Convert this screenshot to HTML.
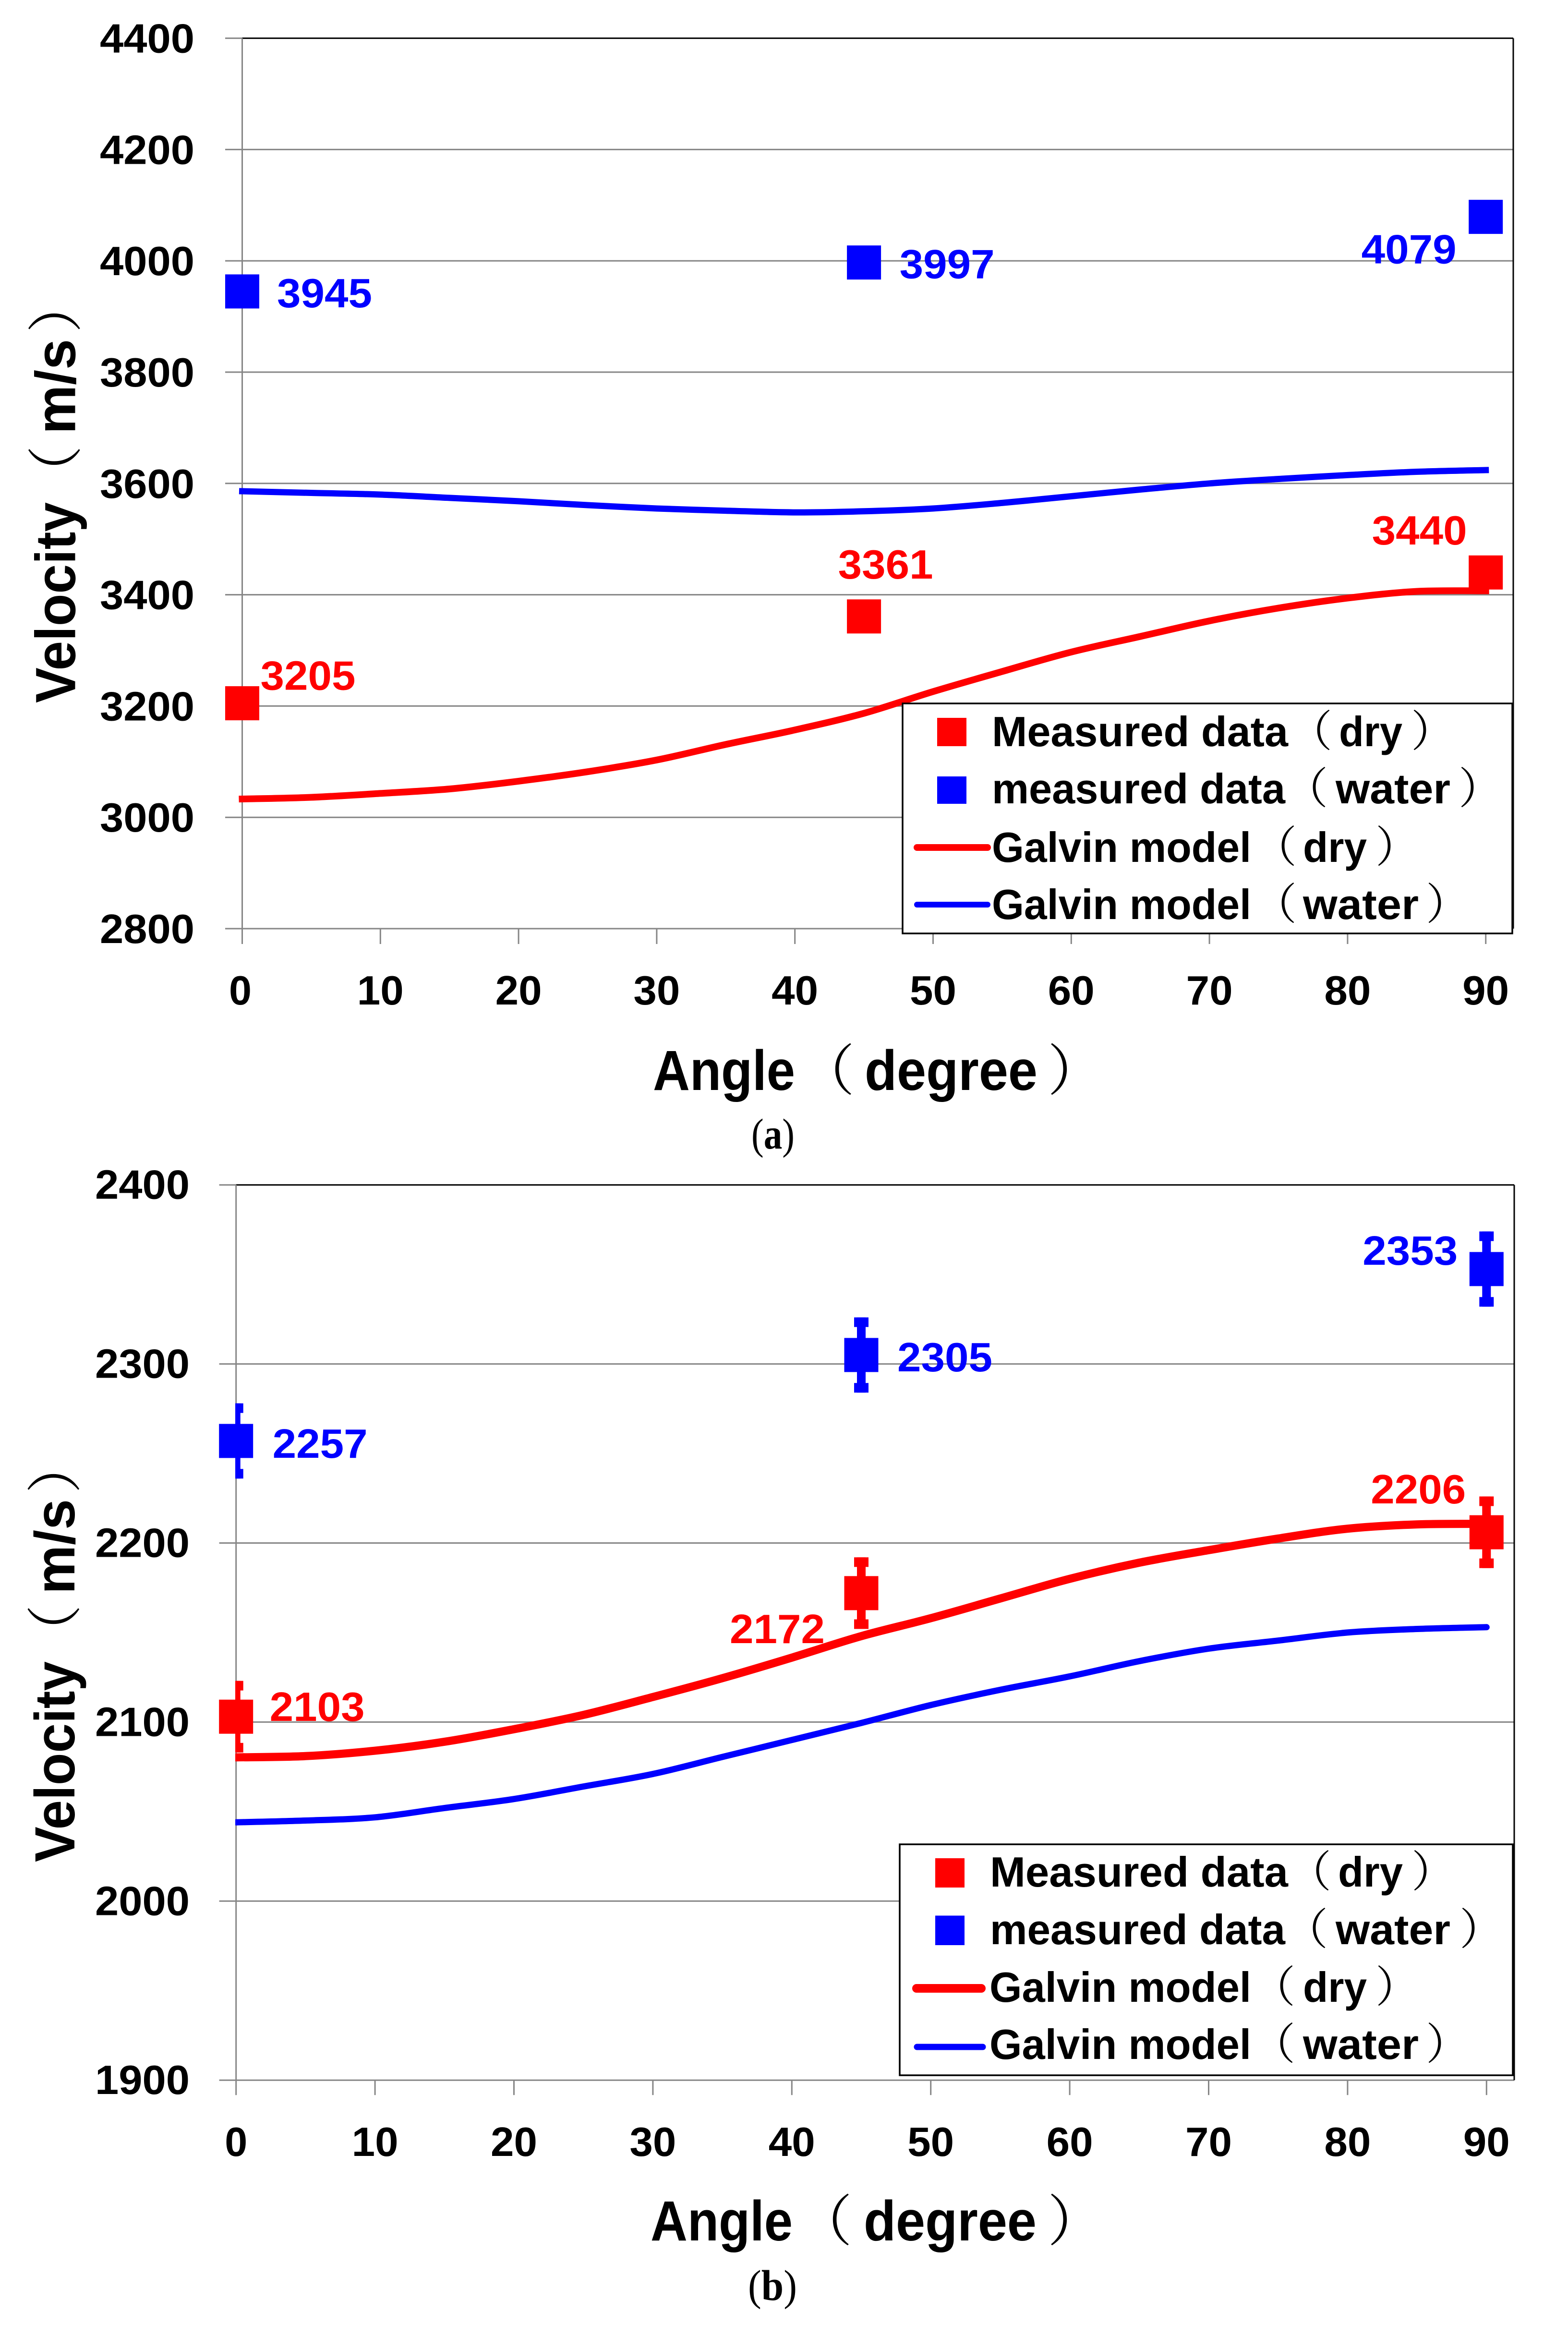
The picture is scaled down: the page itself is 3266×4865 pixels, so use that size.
<!DOCTYPE html>
<html lang="en">
<head>
<meta charset="utf-8">
<title>Velocity vs angle charts</title>
<style>
html,body{margin:0;padding:0;background:#fff}
svg{display:block}
text{font-family:"Liberation Sans","Noto Sans CJK SC",sans-serif;font-weight:bold}
.leg{font-size:88px;fill:#000}
.title{font-size:118px;fill:#000}
.pl{font-family:"Noto Serif CJK SC","Liberation Serif",serif;font-weight:normal;font-size:90px;fill:#000}
.pt{font-family:"Noto Serif CJK SC","Liberation Serif",serif;font-weight:normal;font-size:115px;fill:#000}
.cap{font-family:"Liberation Serif",serif;font-size:90px;font-weight:normal;fill:#000}
</style>
</head>
<body>
<svg xmlns="http://www.w3.org/2000/svg" width="3266" height="4865" viewBox="0 0 3266 4865">
<rect width="3266" height="4865" fill="#fff"/>
<defs>
<clipPath id="clip-b"><rect x="490" y="2400" width="2700" height="2000"/></clipPath>
</defs>

<g id="chart-a"></g>
<g id="chart-b"></g>

<g>
<text class="title" x="1360" y="2270" textLength="296" lengthAdjust="spacingAndGlyphs">Angle</text>
<text class="pt" x="1665" y="2270">（</text>
<text class="title" x="1801" y="2270" textLength="360" lengthAdjust="spacingAndGlyphs">degree</text>
<text class="pt" x="2182" y="2270">）</text>
</g>
<g transform="translate(156.7,0) rotate(-90)">
<text class="title" x="-1464" y="0" textLength="418" lengthAdjust="spacingAndGlyphs">Velocity</text>
<text class="pt" x="-1043" y="0">（</text>
<text class="title" x="-904" y="0" textLength="198" lengthAdjust="spacingAndGlyphs">m/s</text>
<text class="pt" x="-693" y="0">）</text>
</g>
<g>
<rect x="1880" y="1465" width="1270" height="479" fill="#fff" stroke="#000" stroke-width="3.5"/>
<rect x="1952" y="1495" width="61" height="59" fill="#f00"/>
<rect x="1952" y="1617" width="61" height="57" fill="#00f"/>
<line x1="1910" x2="2057" y1="1765" y2="1765" stroke="#f00" stroke-width="14" stroke-linecap="round"/>
<line x1="1910" x2="2057" y1="1884" y2="1884" stroke="#00f" stroke-width="12" stroke-linecap="round"/>
<g>
<text class="leg" x="2066" y="1554" textLength="617" lengthAdjust="spacingAndGlyphs">Measured data</text>
<text class="pl" x="2685" y="1554">（</text>
<text class="leg" x="2789" y="1554" textLength="132" lengthAdjust="spacingAndGlyphs">dry</text>
<text class="pl" x="2939" y="1554">）</text>
</g>
<g>
<text class="leg" x="2066" y="1673" textLength="611" lengthAdjust="spacingAndGlyphs">measured data</text>
<text class="pl" x="2676" y="1673">（</text>
<text class="leg" x="2782" y="1673" textLength="239" lengthAdjust="spacingAndGlyphs">water</text>
<text class="pl" x="3038" y="1673">）</text>
</g>
<g>
<text class="leg" x="2066" y="1795" textLength="540" lengthAdjust="spacingAndGlyphs">Galvin model</text>
<text class="pl" x="2611" y="1795">（</text>
<text class="leg" x="2714" y="1795" textLength="133" lengthAdjust="spacingAndGlyphs">dry</text>
<text class="pl" x="2865" y="1795">）</text>
</g>
<g>
<text class="leg" x="2066" y="1914" textLength="540" lengthAdjust="spacingAndGlyphs">Galvin model</text>
<text class="pl" x="2611" y="1914">（</text>
<text class="leg" x="2714" y="1914" textLength="241" lengthAdjust="spacingAndGlyphs">water</text>
<text class="pl" x="2970" y="1914">）</text>
</g>
</g>
<text class="cap" x="1565" y="2392" textLength="90" lengthAdjust="spacingAndGlyphs">(<tspan font-weight="bold">a</tspan>)</text>

<g>
<text class="title" x="1355" y="4666" textLength="296" lengthAdjust="spacingAndGlyphs">Angle</text>
<text class="pt" x="1660" y="4666">（</text>
<text class="title" x="1799" y="4666" textLength="360" lengthAdjust="spacingAndGlyphs">degree</text>
<text class="pt" x="2182" y="4666">）</text>
</g>
<g transform="translate(155,0) rotate(-90)">
<text class="title" x="-3878" y="0" textLength="418" lengthAdjust="spacingAndGlyphs">Velocity</text>
<text class="pt" x="-3457" y="0">（</text>
<text class="title" x="-3320" y="0" textLength="198" lengthAdjust="spacingAndGlyphs">m/s</text>
<text class="pt" x="-3110" y="0">）</text>
</g>
<g>
<rect x="1874" y="3841" width="1277" height="481" fill="#fff" stroke="#000" stroke-width="3.5"/>
<rect x="1948" y="3870" width="61" height="61" fill="#f00"/>
<rect x="1948" y="3989.5" width="61" height="61.5" fill="#00f"/>
<line x1="1909" x2="2044" y1="4141" y2="4141" stroke="#f00" stroke-width="18" stroke-linecap="round"/>
<line x1="1910" x2="2047" y1="4263" y2="4263" stroke="#00f" stroke-width="13" stroke-linecap="round"/>
<g>
<text class="leg" x="2062" y="3929" textLength="621" lengthAdjust="spacingAndGlyphs">Measured data</text>
<text class="pl" x="2683" y="3929">（</text>
<text class="leg" x="2787" y="3929" textLength="135" lengthAdjust="spacingAndGlyphs">dry</text>
<text class="pl" x="2940" y="3929">）</text>
</g>
<g>
<text class="leg" x="2062" y="4049" textLength="615" lengthAdjust="spacingAndGlyphs">measured data</text>
<text class="pl" x="2676" y="4049">（</text>
<text class="leg" x="2782" y="4049" textLength="239" lengthAdjust="spacingAndGlyphs">water</text>
<text class="pl" x="3040" y="4049">）</text>
</g>
<g>
<text class="leg" x="2061" y="4169" textLength="545" lengthAdjust="spacingAndGlyphs">Galvin model</text>
<text class="pl" x="2608" y="4169">（</text>
<text class="leg" x="2714" y="4169" textLength="133" lengthAdjust="spacingAndGlyphs">dry</text>
<text class="pl" x="2865" y="4169">）</text>
</g>
<g>
<text class="leg" x="2061" y="4288" textLength="545" lengthAdjust="spacingAndGlyphs">Galvin model</text>
<text class="pl" x="2608" y="4288">（</text>
<text class="leg" x="2714" y="4288" textLength="241" lengthAdjust="spacingAndGlyphs">water</text>
<text class="pl" x="2970" y="4288">）</text>
</g>
</g>
<text class="cap" x="1558" y="4790" textLength="102" lengthAdjust="spacingAndGlyphs">(<tspan font-weight="bold">b</tspan>)</text>
</svg>

<script>
// ---- shared data ----
const xTickValues = [0, 10, 20, 30, 40, 50, 60, 70, 80, 90];
const modelAngles = [0, 5, 10, 15, 20, 25, 30, 35, 40, 45, 50, 55, 60, 65, 70, 75, 80, 85, 90];
const measuredAngles = [0, 45, 90];

// ---- chart (a) data ----
const aYTicks = [2800, 3000, 3200, 3400, 3600, 3800, 4000, 4200, 4400];
const aDryModel = [3033, 3036, 3043, 3051, 3065, 3082, 3103, 3131, 3157, 3187, 3226, 3262, 3297, 3325, 3353, 3376, 3394, 3406, 3407];
const aWaterModel = [3586, 3583, 3580, 3574, 3568, 3561, 3555, 3551, 3548, 3550, 3555, 3565, 3577, 3589, 3600, 3608, 3615, 3621, 3624];
const aDryMeasured = [3205, 3361, 3440];
const aWaterMeasured = [3945, 3997, 4079];

// ---- chart (b) data ----
const bYTicks = [1900, 2000, 2100, 2200, 2300, 2400];
const bDryModel = [2080.3, 2081, 2084, 2089, 2096, 2104, 2114, 2124.5, 2136, 2148, 2158, 2169, 2180, 2189, 2196, 2202.5, 2208, 2210.4, 2210.7];
const bWaterModel = [2044, 2045, 2046.8, 2052, 2057, 2064, 2071, 2080.5, 2090, 2099.5, 2109.5, 2118, 2125.5, 2134, 2141, 2145.5, 2150, 2152, 2153];
const bDryMeasured = [2103, 2172, 2206];
const bWaterMeasured = [2257, 2305, 2353];
const bDryError = [20, 20, 20];
const bWaterError = [21, 21, 21];

const NS = 'http://www.w3.org/2000/svg';
const GRID = '#868686';

function make(parent, tag, attrs) {
  const el = document.createElementNS(NS, tag);
  for (const k in attrs) el.setAttribute(k, attrs[k]);
  parent.appendChild(el);
  return el;
}

function drawChart(root, f) {
  const x = d => f.x0 + d * f.xs;
  const y = v => f.yTop + (f.yMax - v) * f.ys;
  const yBottom = y(f.yMin);

  // gridlines and y ticks
  f.yTicks.forEach(v => {
    const isTop = v === f.yMax;
    const g = make(root, 'line', {x1: f.tickLeft, x2: isTop ? f.x0 : f.right, y1: y(v), y2: y(v), stroke: GRID, 'stroke-width': 3});
    
    
    const t = make(root, 'text', {x: f.yLabelRight - 197, y: y(v) + f.yLabelDy, textLength: 197, lengthAdjust: 'spacingAndGlyphs', 'font-size': 85, fill: '#000'});
    t.textContent = v;
    
    
  });

  // plot border
  const top = make(root, 'line', {x1: f.x0, x2: f.right, y1: f.yTop, y2: f.yTop, stroke: '#000', 'stroke-width': 3});
  
  
  const rgt = make(root, 'line', {x1: f.right, x2: f.right, y1: f.yTop, y2: yBottom, stroke: '#000', 'stroke-width': 3});
  
  

  // y axis
  const ax = make(root, 'line', {x1: f.x0, x2: f.x0, y1: f.yTop, y2: yBottom + f.tickLen, stroke: GRID, 'stroke-width': 3});
  
  

  // x ticks
  xTickValues.forEach(d => {
    if (d > 0) {
      const tk = make(root, 'line', {x1: x(d), x2: x(d), y1: yBottom, y2: yBottom + f.tickLen, stroke: GRID, 'stroke-width': 3});
      
      
    }
    const w = d === 0 ? 47 : 97;
    const t = make(root, 'text', {x: x(d) - w / 2 + (d === 0 ? f.zeroDx : 0), y: f.xLabelY, textLength: w, lengthAdjust: 'spacingAndGlyphs', 'font-size': 85, fill: '#000'});
    t.textContent = d;
    
    
  });

  // model lines (smoothed through the data points)
  const path = vals => {
    const p = vals.map((v, i) => [x(modelAngles[i]), y(v)]);
    let d = 'M' + p[0][0].toFixed(1) + ' ' + p[0][1].toFixed(1);
    for (let i = 0; i < p.length - 1; i++) {
      const a = p[Math.max(i - 1, 0)], b = p[i], c = p[i + 1], e = p[Math.min(i + 2, p.length - 1)];
      const c1x = b[0] + (c[0] - a[0]) / 6, c1y = b[1] + (c[1] - a[1]) / 6;
      const c2x = c[0] - (e[0] - b[0]) / 6, c2y = c[1] - (e[1] - b[1]) / 6;
      d += ' C' + c1x.toFixed(1) + ' ' + c1y.toFixed(1) + ' ' + c2x.toFixed(1) + ' ' + c2y.toFixed(1) + ' ' + c[0].toFixed(1) + ' ' + c[1].toFixed(1);
    }
    return d;
  };
  const lineOpts = {fill: 'none', 'stroke-linejoin': 'round', 'stroke-linecap': f.lineCap};
  if (f.clip) lineOpts['clip-path'] = f.clip;
  const wl = make(root, 'path', Object.assign({d: path(f.waterModel), stroke: '#00f', 'stroke-width': f.waterWidth}, lineOpts));
  
  
  const dl = make(root, 'path', Object.assign({d: path(f.dryModel), stroke: '#f00', 'stroke-width': f.dryWidth}, lineOpts));
  
  

  // measured points
  function points(vals, errs, color, offsets, series) {
    vals.forEach((v, i) => {
      const cx = x(measuredAngles[i]), cy = y(v);
      if (errs) {
        const half = errs[i] * f.ys;
        const stem = make(root, 'rect', {x: cx - 9, y: cy - half, width: 18, height: half * 2, fill: color, 'clip-path': f.clip});
        
        
        const c1 = make(root, 'rect', {x: cx - 15, y: cy - half, width: 30, height: 20, fill: color, 'clip-path': f.clip});
        
        
        const c2 = make(root, 'rect', {x: cx - 15, y: cy + half - 20, width: 30, height: 20, fill: color, 'clip-path': f.clip});
        
        
      }
      const m = make(root, 'rect', {x: cx - 35.5, y: cy - 35.5, width: 71, height: 71, fill: color});
      
      
      const lab = make(root, 'text', {x: cx + offsets[i][0], y: cy + offsets[i][1], textLength: 198, lengthAdjust: 'spacingAndGlyphs', 'font-size': 85, fill: color});
      lab.textContent = v;
      
      
    });
  }
  points(f.waterMeasured, f.waterError, '#00f', f.waterOffsets, 'water');
  points(f.dryMeasured, f.dryError, '#f00', f.dryOffsets, 'dry');
}

drawChart(document.getElementById('chart-a'), {
  x0: 504.5, xs: 28.78, yTop: 79.6, ys: 1.159, yMax: 4400, yMin: 2800,
  right: 3152, tickLeft: 469, tickLen: 32, yLabelRight: 405, yLabelDy: 30, xLabelY: 2092, zeroDx: -4,
  yTicks: aYTicks, dryModel: aDryModel, waterModel: aWaterModel,
  dryMeasured: aDryMeasured, waterMeasured: aWaterMeasured,
  dryWidth: 14, waterWidth: 13, lineCap: 'square',
  dryOffsets: [[38, -28], [-54, -79], [-237, -58]],
  waterOffsets: [[72.5, 33], [74, 33], [-259, 97]]
});

drawChart(document.getElementById('chart-b'), {
  x0: 491.7, xs: 28.94, yTop: 2467.7, ys: 3.729, yMax: 2400, yMin: 1900,
  right: 3154, tickLeft: 456.6, tickLen: 31, yLabelRight: 395, yLabelDy: 29, xLabelY: 4490, zeroDx: 0,
  yTicks: bYTicks, dryModel: bDryModel, waterModel: bWaterModel,
  dryMeasured: bDryMeasured, waterMeasured: bWaterMeasured,
  dryError: bDryError, waterError: bWaterError,
  dryWidth: 17, waterWidth: 13, lineCap: 'round', clip: 'url(#clip-b)',
  dryOffsets: [[70, 9], [-274, 104], [-241, -60]],
  waterOffsets: [[76, 35], [75, 34], [-258, -9]]
});
</script>
</body>
</html>
